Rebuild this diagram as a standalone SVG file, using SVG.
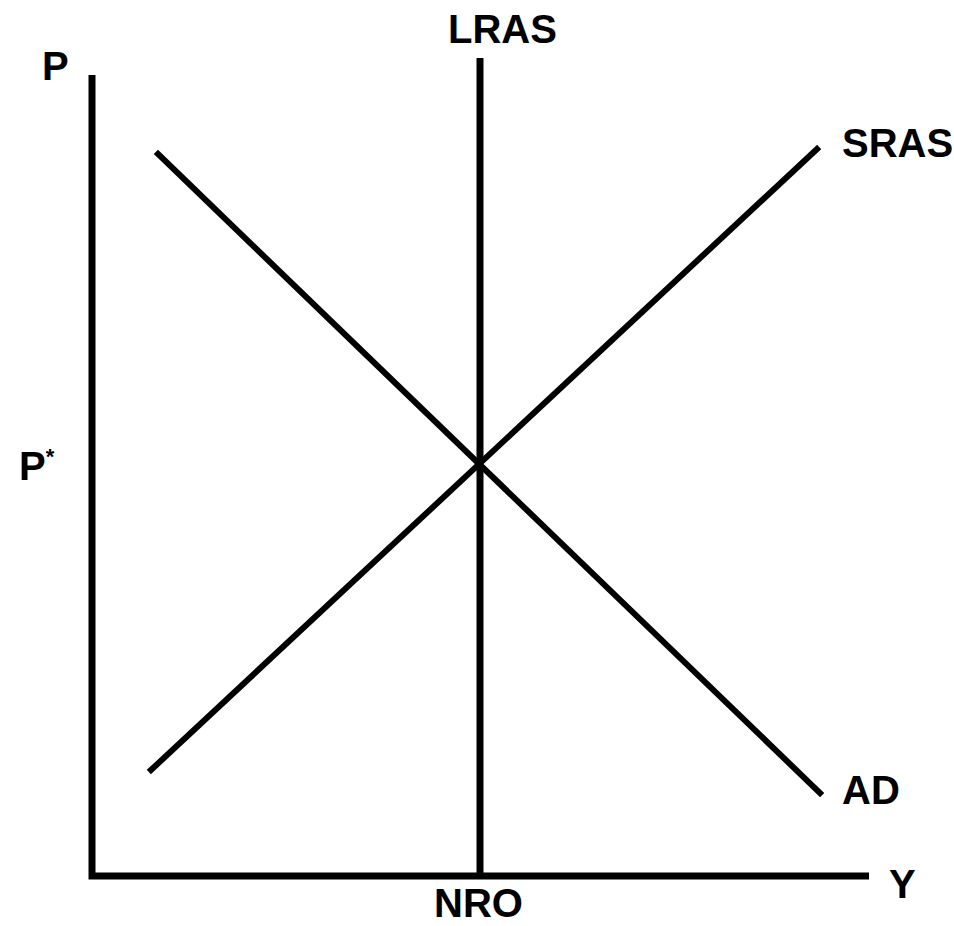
<svg xmlns="http://www.w3.org/2000/svg" width="954" height="926" viewBox="0 0 954 926">
<style>
.ax{stroke:#000;stroke-width:7;fill:none;stroke-linecap:butt}
.ln{stroke:#000;stroke-width:6;fill:none;stroke-linecap:square}
.lb{font-family:"Liberation Sans",Arial,sans-serif;font-weight:bold;font-size:40px;fill:#000}
</style>
<rect width="954" height="926" fill="#fff"/>
<g id="axes">
<path class="ax" d="M92,75 V876 H869"/>
</g>
<g id="connectors">
<line id="lras" class="ax" x1="480" y1="58" x2="480" y2="876"/>
<line id="sras" class="ln" x1="151" y1="770" x2="817" y2="149"/>
<line id="ad" class="ln" x1="158" y1="154" x2="820" y2="793"/>
</g>
<g id="labels">
<text class="lb" x="42" y="80">P</text>
<text class="lb" x="448" y="43">LRAS</text>
<text class="lb" x="842" y="157" font-size="37">SRAS</text>
<text class="lb" x="19" y="480">P<tspan font-size="22" dy="-16">*</tspan></text>
<text class="lb" x="842" y="804">AD</text>
<text class="lb" x="889" y="898">Y</text>
<text class="lb" x="434" y="917">NRO</text>
</g>
</svg>
